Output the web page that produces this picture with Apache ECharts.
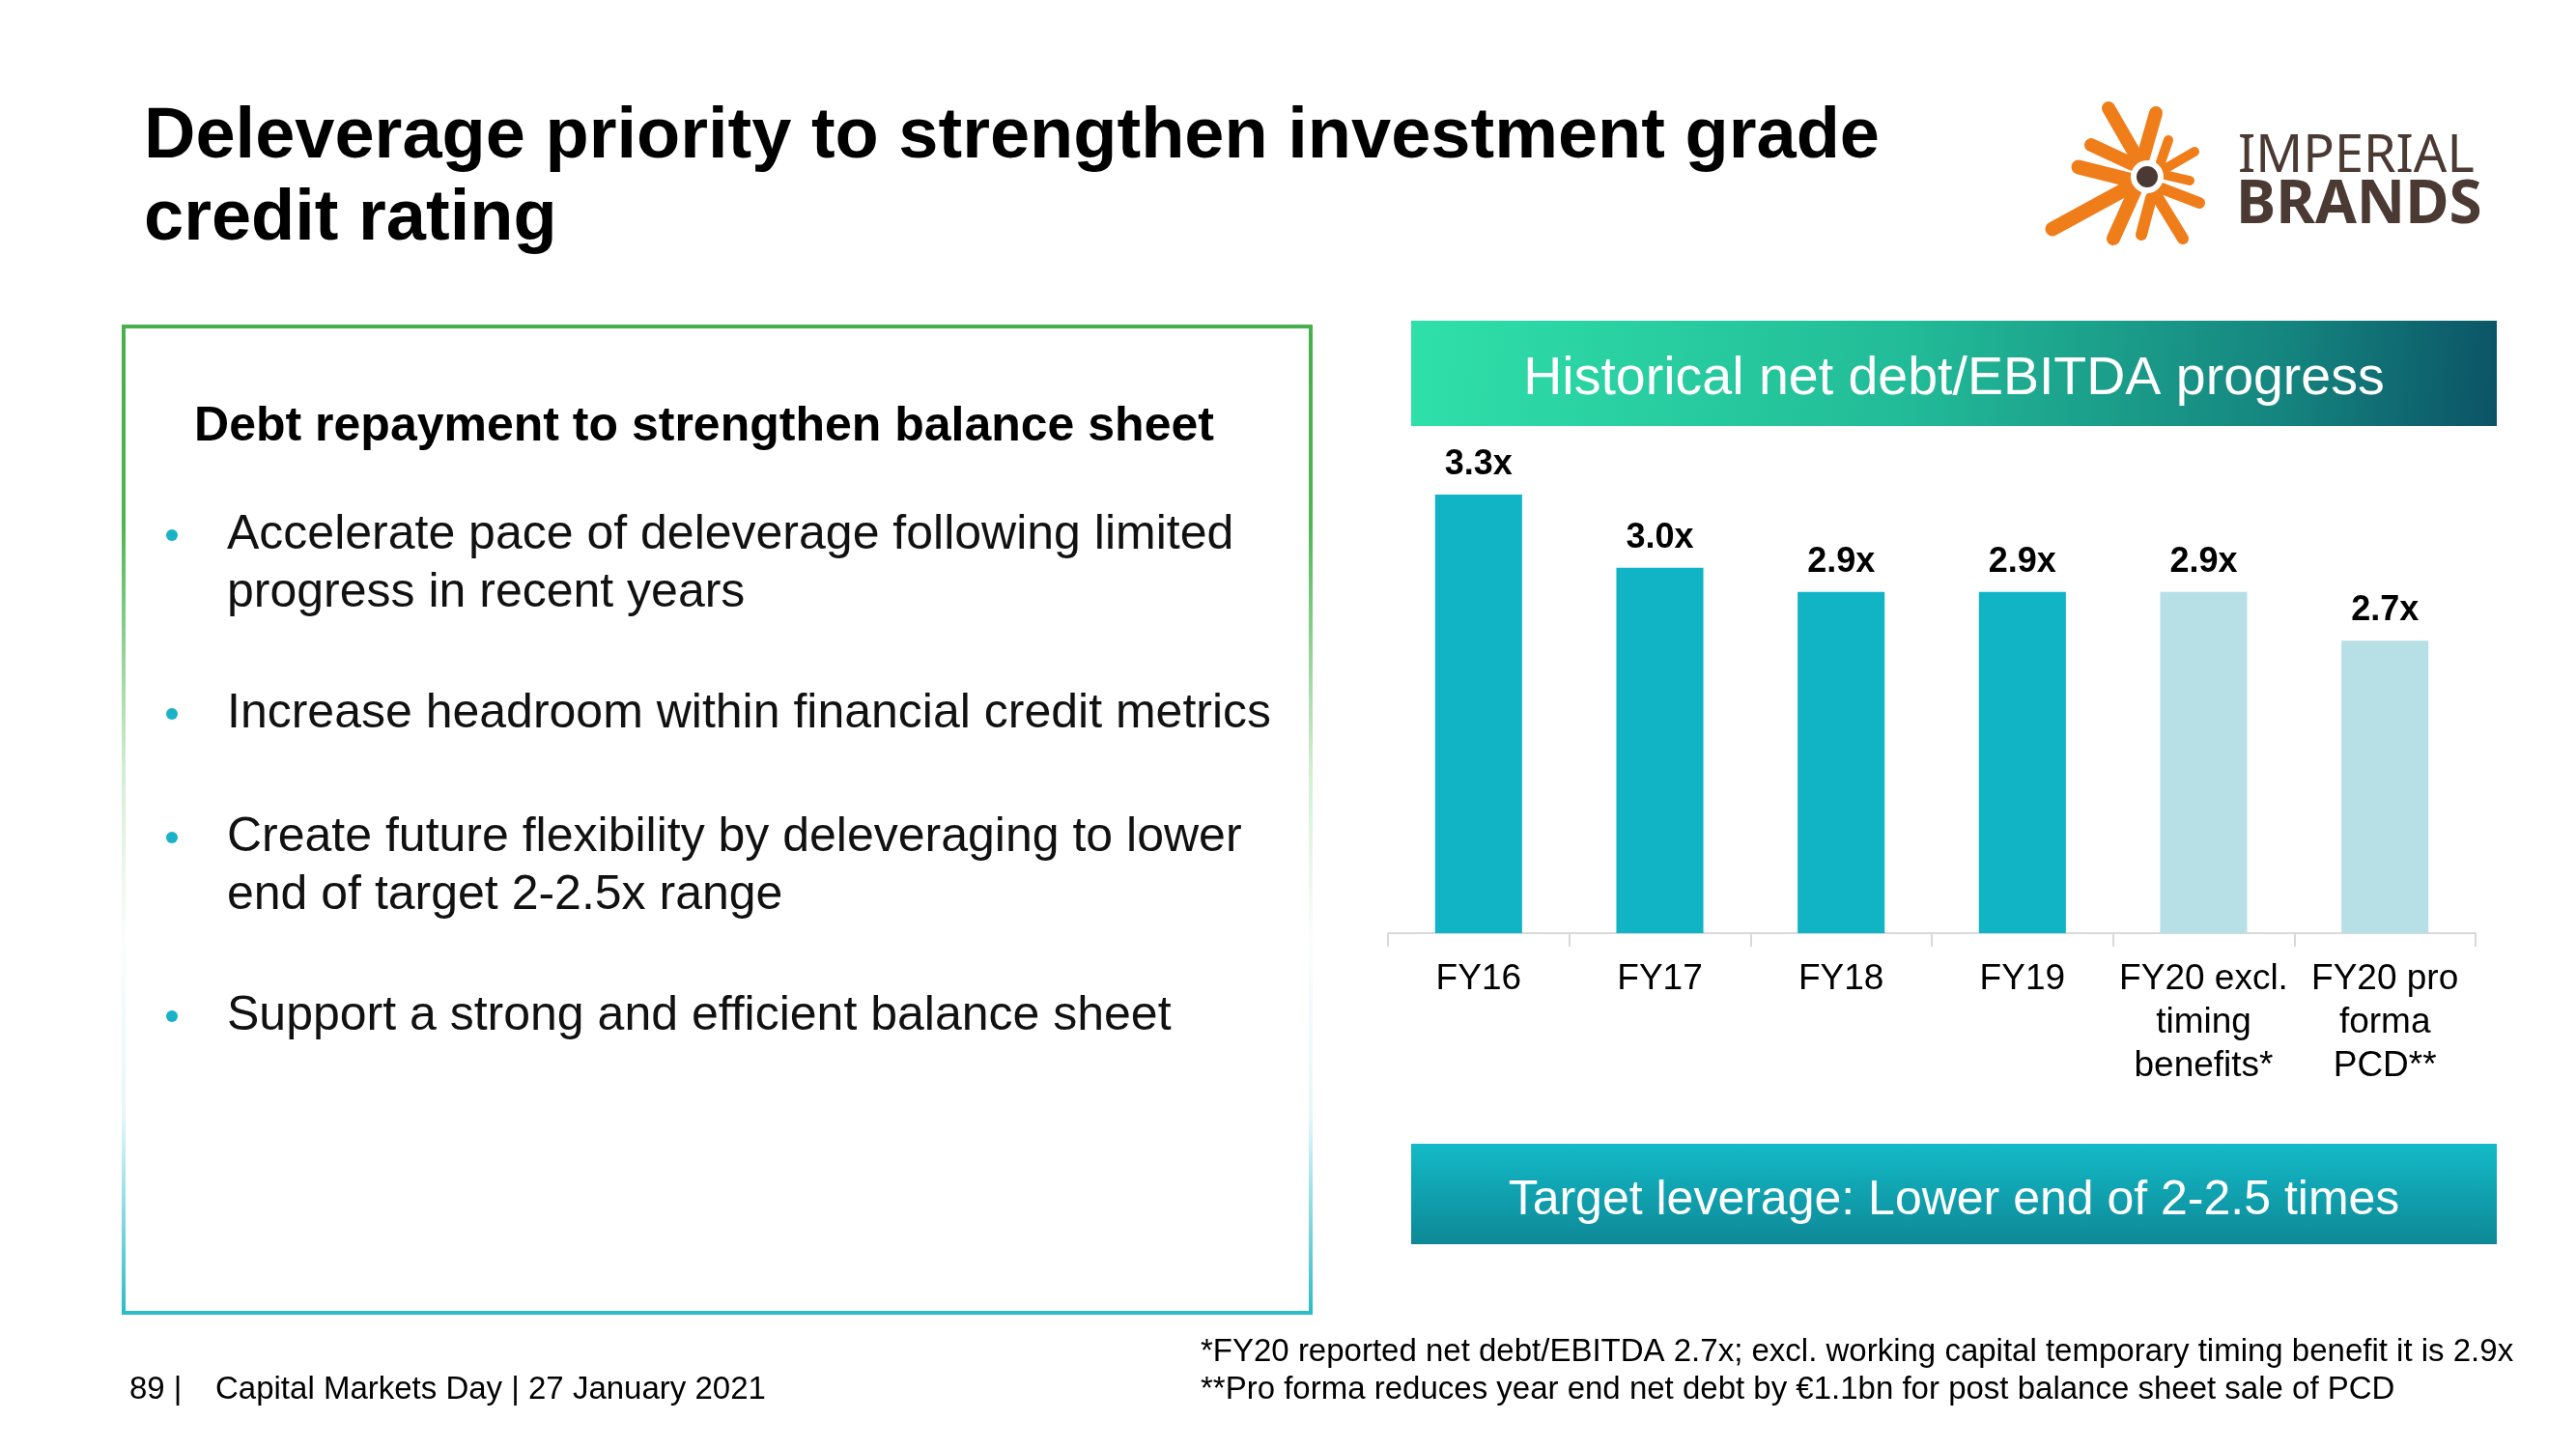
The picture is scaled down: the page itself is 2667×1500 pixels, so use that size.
<!DOCTYPE html>
<html>
<head>
<meta charset="utf-8">
<script src="https://cdn.jsdelivr.net/npm/echarts@6/dist/echarts.min.js"></script>
<style>
html,body{margin:0;padding:0;background:#fff;}
#chart{width:2667px;height:1500px;}
</style>
</head>
<body>
<div id="chart"></div>
<script>
// ---- data ----
const categories = ['FY16', 'FY17', 'FY18', 'FY19', 'FY20 excl.\ntiming\nbenefits*', 'FY20 pro\nforma\nPCD**'];
const leverage = [3.3, 3.0, 2.9, 2.9, 2.9, 2.7];
const adjusted = [false, false, false, false, true, true];
const titleLines = ['Deleverage priority to strengthen investment grade', 'credit rating'];
const chartHeader = 'Historical net debt/EBITDA progress';
const targetText = 'Target leverage: Lower end of 2-2.5 times';
const boxHeading = 'Debt repayment to strengthen balance sheet';
const bullets = [
  ['Accelerate pace of deleverage following limited', 'progress in recent years'],
  ['Increase headroom within financial credit metrics'],
  ['Create future flexibility by deleveraging to lower', 'end of target 2-2.5x range'],
  ['Support a strong and efficient balance sheet']
];
const footnotes = ['*FY20 reported net debt/EBITDA 2.7x; excl. working capital temporary timing benefit it is 2.9x',
  '**Pro forma reduces year end net debt by \u20AC1.1bn for post balance sheet sale of PCD'];
const footerPage = '89 |';
const footerText = 'Capital Markets Day | 27 January 2021';

// ---- chart ----
const FONT = "'Liberation Sans', Arial, Helvetica, sans-serif";
const chart = echarts.init(document.getElementById('chart'), null, {renderer: 'canvas'});

const graphics = [];
function txt(text, x, y, size, opts) {
  opts = opts || {};
  graphics.push({
    type: 'text', silent: true, z: 10,
    style: {
      text: text, x: x, y: y + 3,
      fontSize: size, fontFamily: opts.family || FONT,
      fontWeight: opts.weight || 'normal',
      fill: opts.fill || '#000',
      align: opts.align || 'left', verticalAlign: 'middle'
    }
  });
}

// Title
txt(titleLines[0], 149, 140, 74, {weight: 'bold'});
txt(titleLines[1], 149, 225, 74, {weight: 'bold'});

// Left box
graphics.push({
  type: 'rect', silent: true,
  shape: {x: 128, y: 338, width: 1229, height: 1021},
  style: {
    fill: 'rgba(0,0,0,0)', lineWidth: 4,
    stroke: new echarts.graphic.LinearGradient(0, 0, 0, 1, [
      {offset: 0, color: '#46B04C'},
      {offset: 0.2, color: '#4DB552'},
      {offset: 0.45, color: '#D4EDD3'},
      {offset: 0.62, color: '#FBFDFD'},
      {offset: 0.8, color: '#E6F6F8'},
      {offset: 1, color: '#2ABCC6'}
    ])
  }
});
txt(boxHeading, 729, 439, 50, {weight: 'bold', align: 'center'});
const bulletY = [[551, 611], [736], [864, 924], [1049]];
bullets.forEach(function (lines, i) {
  graphics.push({type: 'circle', silent: true, shape: {cx: 178, cy: bulletY[i][0] + 3, r: 6}, style: {fill: '#19B2C7'}});
  lines.forEach(function (l, j) { txt(l, 235, bulletY[i][j], 50, {fill: '#111'}); });
});

// Chart header box
graphics.push({
  type: 'rect', silent: true,
  shape: {x: 1461, y: 332, width: 1124, height: 109},
  style: {fill: new echarts.graphic.LinearGradient(0, 0, 1, 1, [
    {offset: 0, color: '#2FE0A9'},
    {offset: 0.45, color: '#22BC98'},
    {offset: 0.8, color: '#15857F'},
    {offset: 1, color: '#0B5366'}
  ])}
});
txt(chartHeader, 2023, 390, 55.5, {fill: '#fff', align: 'center'});

// Target box
graphics.push({
  type: 'rect', silent: true,
  shape: {x: 1461, y: 1184, width: 1124, height: 104},
  style: {fill: new echarts.graphic.LinearGradient(0, 0, 0, 1, [
    {offset: 0, color: '#13BAC8'},
    {offset: 1, color: '#0E8896'}
  ])}
});
txt(targetText, 2023, 1240, 50, {fill: '#fff', align: 'center'});

// Footnotes / footer
txt(footnotes[0], 1243, 1397, 33);
txt(footnotes[1], 1243, 1436, 33);
txt(footerPage, 134, 1436, 33);
txt(footerText, 223, 1436, 33);

// Logo
const rays = [
  [2183, 112, 2213, 164, 14], [2232, 117, 2218, 166, 14], [2165, 150, 2208, 170, 14],
  [2245, 145, 2237, 168, 10], [2272, 157, 2241, 175, 10], [2152, 173, 2204, 186, 15],
  [2267, 187, 2241, 181, 10], [2125, 237, 2202, 195, 15], [2188, 247, 2211, 196, 14],
  [2217, 243, 2227, 205, 12], [2260, 247, 2233, 203, 12], [2277, 210, 2238, 195, 12]
];
rays.forEach(function (r) {
  graphics.push({type: 'line', silent: true, shape: {x1: r[0], y1: r[1], x2: r[2], y2: r[3]},
    style: {stroke: '#EF7D1A', lineWidth: r[4], lineCap: 'round'}});
});
graphics.push({type: 'circle', silent: true, shape: {cx: 2223, cy: 183, r: 17}, style: {fill: '#fff'}, z: 11});
graphics.push({type: 'circle', silent: true, shape: {cx: 2223, cy: 183, r: 11}, style: {fill: '#4A3A33'}, z: 12});
txt('IMPERIAL', 2317, 160, 54, {fill: '#4A3A33', family: "'Noto Sans', sans-serif"});
txt('BRANDS', 2315, 210, 62, {fill: '#4A3A33', weight: 'bold', family: "'Noto Sans', sans-serif"});

const option = {
  animation: false,
  backgroundColor: '#fff',
  grid: {left: 1437, right: 104, top: 461.5, bottom: 534, containLabel: false},
  xAxis: {
    type: 'category',
    data: categories,
    axisLine: {show: true, lineStyle: {color: '#D9D9D9', width: 2}},
    axisTick: {show: true, length: 14, lineStyle: {color: '#D9D9D9', width: 2}},
    axisLabel: {color: '#000', fontSize: 37, fontFamily: FONT, lineHeight: 45, margin: 25, interval: 0}
  },
  yAxis: {
    type: 'value', min: 1.5, max: 3.5, show: false,
    splitLine: {show: false}
  },
  series: [{
    type: 'bar',
    data: leverage,
    barWidth: '48%',
    itemStyle: {
      color: function (p) { return adjusted[p.dataIndex] ? '#B7DFE6' : '#10B4C4'; }
    },
    label: {
      show: true, position: 'top', distance: 13,
      color: '#000', fontSize: 36, fontWeight: 'bold', fontFamily: FONT,
      formatter: function (p) { return p.value.toFixed(1) + 'x'; }
    }
  }],
  graphic: graphics
};
chart.setOption(option);
</script>
</body>
</html>
